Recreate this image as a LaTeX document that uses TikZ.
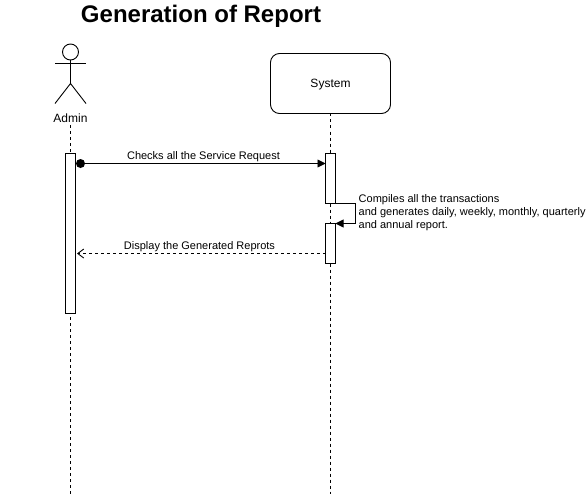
\documentclass[tikz,border=0pt]{standalone}
\usepackage{fontspec}
\setmainfont{Liberation Sans}
\usetikzlibrary{arrows.meta}
\tikzset{
  lifeline/.style={draw=black,dashed,dash pattern=on 3pt off 3pt,line width=0.9pt},
  activation/.style={draw=black,fill=white,line width=0.9pt,minimum width=10pt,inner sep=0pt,outer sep=0pt},
  msg/.style={font=\fontsize{11}{13}\selectfont,inner sep=0pt},
  conn/.style={draw=black,line width=0.9pt},
  solidtip/.style={-{Triangle[length=8pt,width=8pt]}},
  opentip/.style={-{Straight Barb[length=6pt,width=9pt]}},
}
\begin{document}
\begin{tikzpicture}[x=1pt,y=-1pt,line join=miter]
\useasboundingbox (0,0) rectangle (587,495);
\node[font=\bfseries\fontsize{24}{28}\selectfont,inner sep=0pt] (title) at (201,16) {Generation of Report};
% actor
\node[circle,draw=black,line width=0.9pt,minimum size=16pt,inner sep=0pt,outer sep=0pt] (head) at (70.5,52) {};
\coordinate (hip) at (70.5,83.5);
\coordinate (armL) at (55,63.5);
\coordinate (armR) at (86,63.5);
\coordinate (legL) at (55,103.5);
\coordinate (legR) at (86,103.5);
\draw[conn] (head.south) -- (hip);
\draw[conn] (armL) -- (armR);
\draw[conn] (legL) -- (hip) -- (legR);
\node[msg,font=\fontsize{12}{13}\selectfont] (admin) at (70.5,118) {Admin};
% system
\node[draw=black,fill=white,rounded corners=9pt,line width=0.9pt,minimum width=120pt,minimum height=60pt,inner sep=0pt,outer sep=0pt,font=\fontsize{12}{13}\selectfont,text depth=-1.5pt] (system) at (330.5,83.5) {System};
% lifelines
\coordinate (adminTop) at (70.5,125);
\coordinate (adminEnd) at (70.5,494);
\coordinate (sysEnd) at (330.5,494);
\draw[lifeline] (adminTop) -- (adminEnd);
\draw[lifeline] (system.south) -- (sysEnd);
% activations
\node[activation,minimum height=160pt] (a1) at (70.5,233.5) {};
\node[activation,minimum height=50pt] (s1) at (330.5,178.5) {};
\node[activation,minimum height=40pt] (s2) at (330.5,243.5) {};
% messages
\node[circle,fill=black,minimum size=9pt,inner sep=0pt,outer sep=0pt] (dot) at (80.5,163.5) {};
\draw[conn,solidtip] (dot.center) -- (s1.west |- dot.center);
\node[msg] (m1) at (203.5,157) {Checks all the Service Request};
\coordinate (selfA) at (355.5,203.5);
\coordinate (selfB) at (355.5,223.5);
\draw[conn,solidtip] (s1.south east) -- (selfA) -- (selfB) -- (s2.north east);
\node[msg,align=left,anchor=north west,font=\fontsize{11}{13.2}\selectfont] (m2) at (358.5,194.3) {Compiles all the transactions\\and generates daily, weekly, monthly, quarterly\\and annual report.};
\coordinate (retEnd) at (77,253.5);
\draw[conn,dashed,dash pattern=on 3pt off 3pt,opentip] (s2.west |- retEnd) -- (retEnd);
\node[msg] (m3) at (199.5,246.7) {Display the Generated Reprots};
\end{tikzpicture}
\end{document}
